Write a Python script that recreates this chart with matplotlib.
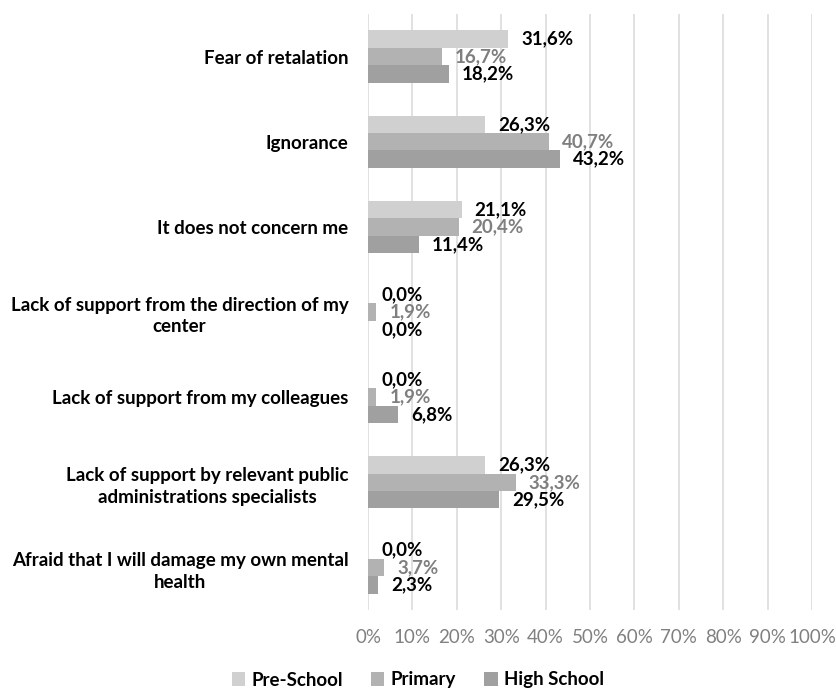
import matplotlib.pyplot as plt
from matplotlib.patches import Patch

categories = [
    "Fear of retalation",
    "Ignorance",
    "It does not concern me",
    "Lack of support from the direction of my\ncenter",
    "Lack of support from my colleagues",
    "Lack of support by relevant public\nadministrations specialists",
    "Afraid that I will damage my own mental\nhealth",
]
series_names = ["Pre-School", "Primary", "High School"]
pre_school = [31.6, 26.3, 21.1, 0.0, 0.0, 26.3, 0.0]
primary = [16.7, 40.7, 20.4, 1.9, 1.9, 33.3, 3.7]
high_school = [18.2, 43.2, 11.4, 0.0, 6.8, 29.5, 2.3]

bar_colors = ["#d0d0d1", "#b2b2b2", "#a0a0a0"]
label_colors = ["#000000", "#7f7f7f", "#000000"]

plt.rcParams["font.family"] = ["Lato", "DejaVu Sans"]

W, H = 836, 690
fig = plt.figure(figsize=(W / 100, H / 100), dpi=100)
ax = fig.add_axes([368 / W, 1 - 610 / H, (812 - 368) / W, (610 - 14) / H])

bar_h = 0.205
offsets = [-bar_h, 0.0, bar_h]
for values, off, color, lcolor in zip([pre_school, primary, high_school], offsets, bar_colors, label_colors):
    ys = [i + off for i in range(len(categories))]
    ax.barh(ys, values, height=bar_h, color=color, zorder=2)
    for y, v in zip(ys, values):
        ax.annotate(f"{v:.1f}%".replace(".", ","), (v, y), xytext=(13, 0),
                    textcoords="offset pixels", ha="left", va="center",
                    fontsize=13.5, fontweight="bold", color=lcolor)

ax.set_xlim(0, 100)
ax.set_ylim(len(categories) - 0.5, -0.5)
ax.set_xticks(range(0, 101, 10))
ax.set_xticklabels([f"{t}%" for t in range(0, 101, 10)], fontsize=13.5, color="#808080")
ax.set_yticks(range(len(categories)))
ax.set_yticklabels(categories, fontsize=13.5, fontweight="bold",
                   multialignment="center", linespacing=1.35)
ax.tick_params(axis="both", length=0)
ax.tick_params(axis="y", pad=14)
ax.tick_params(axis="x", pad=14)
ax.grid(axis="x", color="#d9d9d9", linewidth=1.1, zorder=0)
ax.set_axisbelow(True)
for spine in ax.spines.values():
    spine.set_visible(False)

handles = [Patch(facecolor=c, edgecolor="none") for c in bar_colors]
fig.legend(handles, series_names, loc="center", bbox_to_anchor=(0.5, 1 - 680 / H),
           ncol=3, frameon=False, handlelength=0.7, handleheight=0.7,
           handletextpad=0.35, columnspacing=1.5, prop={"size": 13.5, "weight": "bold"})

fig.savefig("out.png", dpi=100)
